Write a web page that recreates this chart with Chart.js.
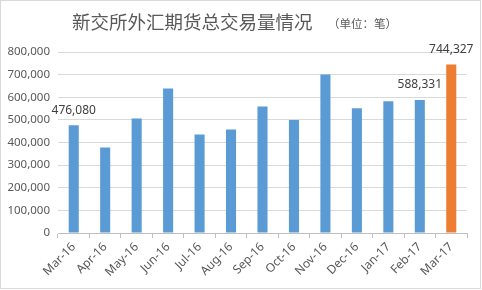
<!DOCTYPE html>
<html>
<head>
<meta charset="utf-8">
<script src="https://cdn.jsdelivr.net/npm/chart.js@4/dist/chart.umd.min.js"></script>
<style>
  html, body { margin: 0; padding: 0; background: #fff; }
  #wrap { width: 482px; height: 290px; }
</style>
</head>
<body>
<div id="wrap"><canvas id="myChart" width="482" height="290"></canvas></div>
<script>
const months = ['Mar-16', 'Apr-16', 'May-16', 'Jun-16', 'Jul-16', 'Aug-16', 'Sep-16',
  'Oct-16', 'Nov-16', 'Dec-16', 'Jan-17', 'Feb-17', 'Mar-17']
const volumes = [476080, 378000, 506000, 639000, 435000, 458000, 559000,
  499000, 701000, 551000, 582000, 588331, 744327]
const barColors = ['#5B9BD5', '#5B9BD5', '#5B9BD5', '#5B9BD5', '#5B9BD5', '#5B9BD5', '#5B9BD5',
  '#5B9BD5', '#5B9BD5', '#5B9BD5', '#5B9BD5', '#5B9BD5', '#ED7D31']
// only these bars get a value label
const labelled = [0, 11, 12]
const yTicks = [0, 100000, 200000, 300000, 400000, 500000, 600000, 700000, 800000]

const titleText = '新交所外汇期货总交易量情况'
const unitText = '（单位：笔）'
const numFont = '"Noto Sans", "DejaVu Sans", sans-serif'

// title, frame and value labels
const extras = {
  id: 'extras',
  beforeDraw(chart) {
    const ctx = chart.ctx
    ctx.save()
    ctx.strokeStyle = '#d9d9d9'
    ctx.lineWidth = 1
    ctx.strokeRect(0.5, 0.5, 480, 288)
    ctx.fillStyle = '#595959'
    ctx.textBaseline = 'middle'
    ctx.textAlign = 'left'
    ctx.font = '18.5px "Noto Sans CJK SC"'
    ctx.fillText(titleText, 72, 22)
    ctx.font = '11.5px "Noto Sans CJK SC"'
    ctx.fillText(unitText, 328, 24)
    ctx.restore()
  },
  afterDatasetsDraw(chart) {
    const ctx = chart.ctx
    const meta = chart.getDatasetMeta(0)
    ctx.save()
    ctx.fillStyle = '#404040'
    ctx.font = '12px ' + numFont
    ctx.textAlign = 'center'
    ctx.textBaseline = 'middle'
    labelled.forEach(i => {
      const bar = meta.data[i]
      ctx.fillText(volumes[i].toLocaleString('en-US'), bar.x, bar.y - 15)
    })
    ctx.restore()
  }
}

new Chart(document.getElementById('myChart'), {
  type: 'bar',
  data: {
    labels: months,
    datasets: [{
      data: volumes,
      backgroundColor: barColors,
      barPercentage: 0.64,
      categoryPercentage: 0.5
    }]
  },
  options: {
    responsive: false,
    animation: false,
    layout: { padding: { top: 52, right: 15, left: 0, bottom: 0 } },
    plugins: { legend: { display: false }, tooltip: { enabled: false } },
    scales: {
      x: {
        grid: { offset: true, drawOnChartArea: false, color: '#bfbfbf', tickLength: 5 },
        border: { color: '#bfbfbf' },
        ticks: {
          color: '#595959',
          font: { family: numFont, size: 12 },
          minRotation: 45,
          maxRotation: 45,
          padding: 2
        },
        afterFit(scale) { scale.height = 57 }
      },
      y: {
        min: 0,
        max: 800000,
        afterBuildTicks(scale) { scale.ticks = yTicks.map(v => ({ value: v })) },
        grid: { color: '#d9d9d9', drawTicks: false },
        border: { display: false },
        ticks: {
          color: '#595959',
          font: { family: numFont, size: 11.5 },
          padding: 8,
          callback: v => v.toLocaleString('en-US')
        },
        afterFit(scale) { scale.width = 58 }
      }
    }
  },
  plugins: [extras]
})
</script>
</body>
</html>
